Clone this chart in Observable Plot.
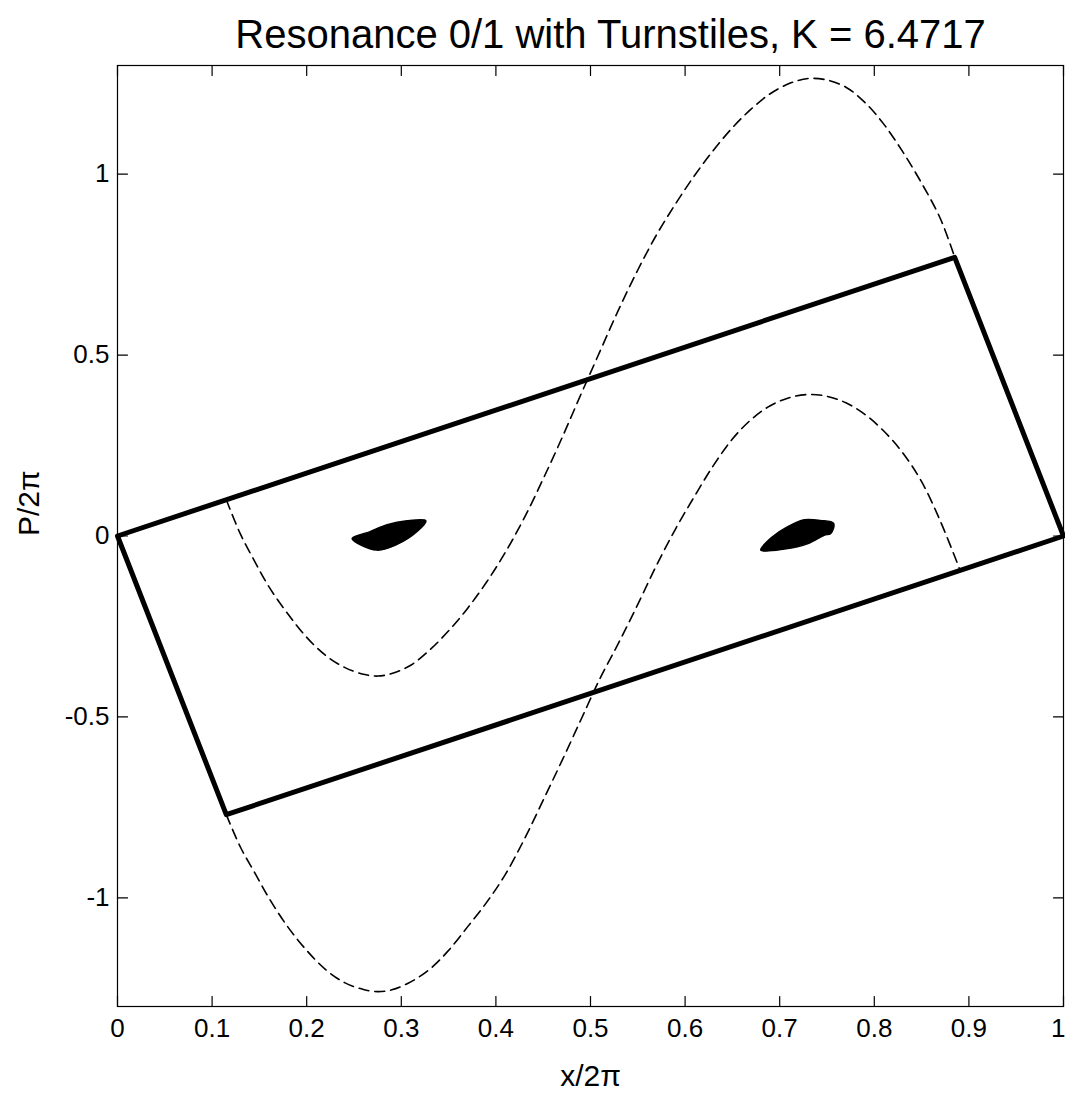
<!DOCTYPE html>
<html>
<head>
<meta charset="utf-8">
<script src="https://cdn.jsdelivr.net/npm/d3@7"></script>
<script src="https://cdn.jsdelivr.net/npm/@observablehq/plot@0.6"></script>
<style>
  html, body { margin: 0; padding: 0; background: #fff; }
  #chart svg { display: block; }
</style>
</head>
<body>
<div id="chart"></div>
<script>
const title = "Resonance 0/1 with Turnstiles, K = 6.4717";
const xLabel = "x/2π";
const yLabel = "P/2π";

const xTicks = [0, 0.1, 0.2, 0.3, 0.4, 0.5, 0.6, 0.7, 0.8, 0.9, 1];
const yTicks = [-1, -0.5, 0, 0.5, 1];

// Turnstile box (thick outline)
const boxX = [0, 0.885, 1, 0.115, 0];
const boxY = [0, 0.77, 0, -0.77, 0];

// Dashed curve 1 (upper manifold)
const curve1X = [0.115, 0.13, 0.145, 0.16, 0.18, 0.20, 0.22, 0.24, 0.26, 0.275, 0.29, 0.31, 0.33, 0.35, 0.37, 0.39, 0.41, 0.43, 0.45, 0.47, 0.49, 0.51, 0.53, 0.55, 0.57, 0.59, 0.61, 0.63, 0.65, 0.67, 0.69, 0.71, 0.73, 0.75, 0.77, 0.79, 0.81, 0.83, 0.85, 0.87, 0.885];
const curve1Y = [0.10, 0.005, -0.07, -0.14, -0.215, -0.28, -0.33, -0.363, -0.382, -0.387, -0.38, -0.357, -0.315, -0.262, -0.2, -0.128, -0.045, 0.05, 0.158, 0.272, 0.392, 0.51, 0.627, 0.735, 0.833, 0.918, 0.996, 1.066, 1.128, 1.18, 1.222, 1.25, 1.264, 1.26, 1.24, 1.198, 1.138, 1.062, 0.975, 0.876, 0.77];

// Dashed curve 2 (lower manifold)
const curve2X = [0.115, 0.13, 0.145, 0.16, 0.18, 0.20, 0.22, 0.24, 0.26, 0.275, 0.29, 0.31, 0.33, 0.35, 0.37, 0.39, 0.41, 0.43, 0.45, 0.47, 0.49, 0.51, 0.53, 0.55, 0.57, 0.59, 0.61, 0.63, 0.65, 0.67, 0.69, 0.71, 0.73, 0.75, 0.77, 0.79, 0.81, 0.83, 0.85, 0.87, 0.89];
const curve2Y = [-0.77, -0.86, -0.93, -1.0, -1.08, -1.145, -1.198, -1.234, -1.253, -1.259, -1.254, -1.232, -1.197, -1.145, -1.08, -1.013, -0.935, -0.838, -0.73, -0.62, -0.507, -0.394, -0.294, -0.189, -0.08, 0.02, 0.11, 0.195, 0.268, 0.322, 0.36, 0.382, 0.391, 0.386, 0.368, 0.336, 0.29, 0.23, 0.15, 0.04, -0.09];

// Chaotic island blobs (outlines)
const blob1X = [0.248, 0.274, 0.295, 0.317, 0.326, 0.306, 0.285, 0.267];
const blob1Y = [-0.007, -0.039, -0.024, 0.013, 0.042, 0.042, 0.031, 0.012];
const blob2X = [0.680, 0.705, 0.730, 0.747, 0.754, 0.757, 0.743, 0.726, 0.708, 0.692];
const blob2Y = [-0.039, -0.036, -0.021, 0.002, 0.007, 0.035, 0.043, 0.045, 0.025, -0.003];

const zip = (xs, ys) => xs.map((x, i) => ({x, y: ys[i]}));
const box = zip(boxX, boxY);
const curve1 = zip(curve1X, curve1Y);
const curve2 = zip(curve2X, curve2Y);
const blob1 = zip(blob1X, blob1Y);
const blob2 = zip(blob2X, blob2Y);

const font = "'Liberation Sans', Arial, Helvetica, sans-serif";
const tickShape = {draw(context, l) { context.moveTo(0, 0); context.lineTo(0, -l); }};
const tickLen = 10;
const fmt = d => String(d);
const xMax = d3.max(xTicks);
const xTicksInner = xTicks.filter(d => d !== xMax);

const chart = Plot.plot({
  width: 1065,
  height: 1093,
  marginLeft: 117,
  marginRight: 2,
  marginTop: 65,
  marginBottom: 87,
  style: {fontFamily: font, background: "#fff", color: "#000"},
  x: {domain: [0, 1]},
  y: {domain: [-1.3, 1.3]},
  marks: [
    Plot.frame({stroke: "#000", strokeWidth: 1.2}),
    Plot.axisX(xTicksInner, {anchor: "bottom", tickSize: 0, tickPadding: 12, tickFormat: fmt, fontSize: 26, label: null}),
    Plot.axisX([xMax], {anchor: "bottom", tickSize: 0, tickPadding: 12, tickFormat: fmt, fontSize: 26, textAnchor: "end", dx: 2, label: null}),
    Plot.axisY(yTicks, {anchor: "left", tickSize: 0, tickPadding: 8, tickFormat: fmt, fontSize: 26, label: null}),
    // inward ticks on all four sides
    Plot.vector(xTicks, {x: d => d, frameAnchor: "bottom", rotate: 0, length: tickLen, anchor: "start", shape: tickShape, stroke: "#000", strokeWidth: 1.2}),
    Plot.vector(xTicks, {x: d => d, frameAnchor: "top", rotate: 180, length: tickLen, anchor: "start", shape: tickShape, stroke: "#000", strokeWidth: 1.2}),
    Plot.vector(yTicks, {y: d => d, frameAnchor: "left", rotate: 90, length: tickLen, anchor: "start", shape: tickShape, stroke: "#000", strokeWidth: 1.2}),
    Plot.vector(yTicks, {y: d => d, frameAnchor: "right", rotate: -90, length: tickLen, anchor: "start", shape: tickShape, stroke: "#000", strokeWidth: 1.2}),
    // dashed manifolds
    Plot.line(curve1, {x: "x", y: "y", stroke: "#000", strokeWidth: 1.6, strokeDasharray: "10,6", curve: "catmull-rom"}),
    Plot.line(curve2, {x: "x", y: "y", stroke: "#000", strokeWidth: 1.6, strokeDasharray: "10,6", curve: "catmull-rom"}),
    // turnstile box
    Plot.line(box, {x: "x", y: "y", stroke: "#000", strokeWidth: 5, strokeLinejoin: "round", strokeLinecap: "round"}),
    // islands
    Plot.line(blob1, {x: "x", y: "y", fill: "#000", stroke: "#000", strokeWidth: 1.5, curve: "catmull-rom-closed"}),
    Plot.line(blob2, {x: "x", y: "y", fill: "#000", stroke: "#000", strokeWidth: 1.5, curve: "catmull-rom-closed"}),
    // title and axis labels
    Plot.text([title], {frameAnchor: "top", dy: -18, dx: 20, lineAnchor: "bottom", fontSize: 40, fill: "#000"}),
    Plot.text([xLabel], {frameAnchor: "bottom", dy: 70, lineAnchor: "middle", fontSize: 30, fill: "#000"}),
    Plot.text([yLabel], {frameAnchor: "left", dx: -88, rotate: -90, lineAnchor: "middle", fontSize: 30, fill: "#000"})
  ]
});
document.getElementById("chart").appendChild(chart);
</script>
</body>
</html>
